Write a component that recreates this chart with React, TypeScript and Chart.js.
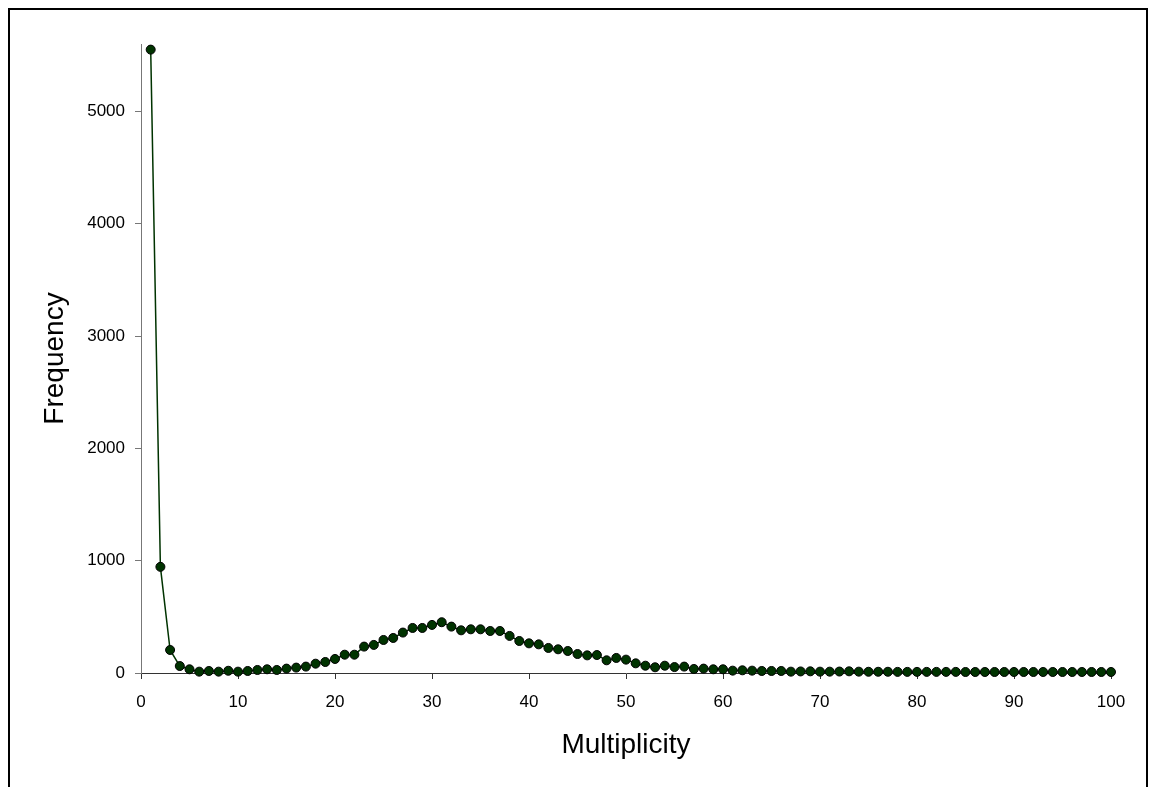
import React, { useEffect, useRef } from "react";
import { Chart, registerables } from "chart.js";

Chart.register(...registerables);

const multiplicity = [
  1, 2, 3, 4, 5, 6, 7, 8, 9, 10,
  11, 12, 13, 14, 15, 16, 17, 18, 19, 20,
  21, 22, 23, 24, 25, 26, 27, 28, 29, 30,
  31, 32, 33, 34, 35, 36, 37, 38, 39, 40,
  41, 42, 43, 44, 45, 46, 47, 48, 49, 50,
  51, 52, 53, 54, 55, 56, 57, 58, 59, 60,
  61, 62, 63, 64, 65, 66, 67, 68, 69, 70,
  71, 72, 73, 74, 75, 76, 77, 78, 79, 80,
  81, 82, 83, 84, 85, 86, 87, 88, 89, 90,
  91, 92, 93, 94, 95, 96, 97, 98, 99, 100,
];

const frequency = [
  5550, 945, 205, 62, 33, 12, 18, 12, 20, 12,
  18, 27, 33, 27, 39, 48, 57, 83, 98, 125,
  163, 163, 235, 250, 294, 312, 360, 401, 401, 428,
  452, 413, 380, 389, 389, 374, 374, 330, 285, 264,
  255, 223, 211, 196, 169, 157, 160, 113, 134, 119,
  86, 65, 51, 65, 53, 57, 36, 39, 33, 33,
  21, 24, 21, 18, 18, 18, 12, 14, 15, 12,
  12, 13, 15, 12, 11, 11, 11, 10, 10, 10,
  10, 10, 10, 10, 9, 9, 9, 9, 9, 9,
  9, 9, 9, 9, 9, 9, 9, 9, 9, 9,
];

const xTickValues = [0, 10, 20, 30, 40, 50, 60, 70, 80, 90, 100];
const yTickValues = [0, 1000, 2000, 3000, 4000, 5000];

const FONT = "'Liberation Sans', Arial, sans-serif";

export default function App() {
  const canvasRef = useRef<HTMLCanvasElement | null>(null);

  useEffect(() => {
    const canvas = canvasRef.current;
    if (!canvas) return;
    const chart = new Chart(canvas, {
      type: "line",
      data: {
        datasets: [
          {
            label: "Frequency",
            data: multiplicity.map((m, i) => ({ x: m, y: frequency[i] })),
            borderColor: "#003300",
            borderWidth: 1.5,
            backgroundColor: "#003300",
            pointBackgroundColor: "#003300",
            pointBorderColor: "#000000",
            pointBorderWidth: 1,
            pointRadius: 4.5,
            tension: 0,
            clip: false as any,
          },
        ],
      },
      options: {
        responsive: false,
        animation: false,
        devicePixelRatio: 1,
        layout: { padding: { top: 34, right: 35, left: 0, bottom: 0 } },
        plugins: {
          legend: { display: false },
          tooltip: { enabled: false },
        },
        scales: {
          x: {
            type: "linear",
            min: 0,
            max: 100,
            afterFit: (s: any) => {
              s.height = 114;
            },
            afterBuildTicks: (s: any) => {
              s.ticks = xTickValues.map((v) => ({ value: v }));
            },
            ticks: {
              color: "#000",
              font: { family: FONT, size: 17 },
              padding: 13,
              maxRotation: 0,
              autoSkip: false,
              callback: (v: any) => String(v),
            },
            grid: {
              display: true,
              drawOnChartArea: false,
              drawTicks: true,
              tickLength: 6,
              color: "#333",
            },
            border: { display: true, color: "#333", width: 1 },
            title: {
              display: true,
              text: "Multiplicity",
              color: "#000",
              font: { family: FONT, size: 28 },
              padding: { top: 0, bottom: 25 },
            },
          },
          y: {
            type: "linear",
            min: 0,
            max: 5600,
            afterFit: (s: any) => {
              s.width = 131;
            },
            afterBuildTicks: (s: any) => {
              s.ticks = yTickValues.map((v) => ({ value: v }));
            },
            ticks: {
              color: "#000",
              font: { family: FONT, size: 17 },
              padding: 10,
              autoSkip: false,
              callback: (v: any) => String(v),
            },
            grid: {
              display: true,
              drawOnChartArea: false,
              drawTicks: true,
              tickLength: 6,
              color: "#777",
            },
            border: { display: true, color: "#777", width: 1 },
            title: {
              display: true,
              text: "Frequency",
              color: "#000",
              font: { family: FONT, size: 28 },
              padding: { top: 28, bottom: 0 },
            },
          },
        },
      },
    });
    return () => chart.destroy();
  }, []);

  return (
    <div
      style={{
        position: "fixed",
        left: 8,
        top: 8,
        width: 1140,
        height: 800,
        border: "2px solid #000",
        boxSizing: "border-box",
        background: "#fff",
        overflow: "hidden",
      }}
    >
      <canvas ref={canvasRef} width={1136} height={777} style={{ display: "block" }} />
    </div>
  );
}
